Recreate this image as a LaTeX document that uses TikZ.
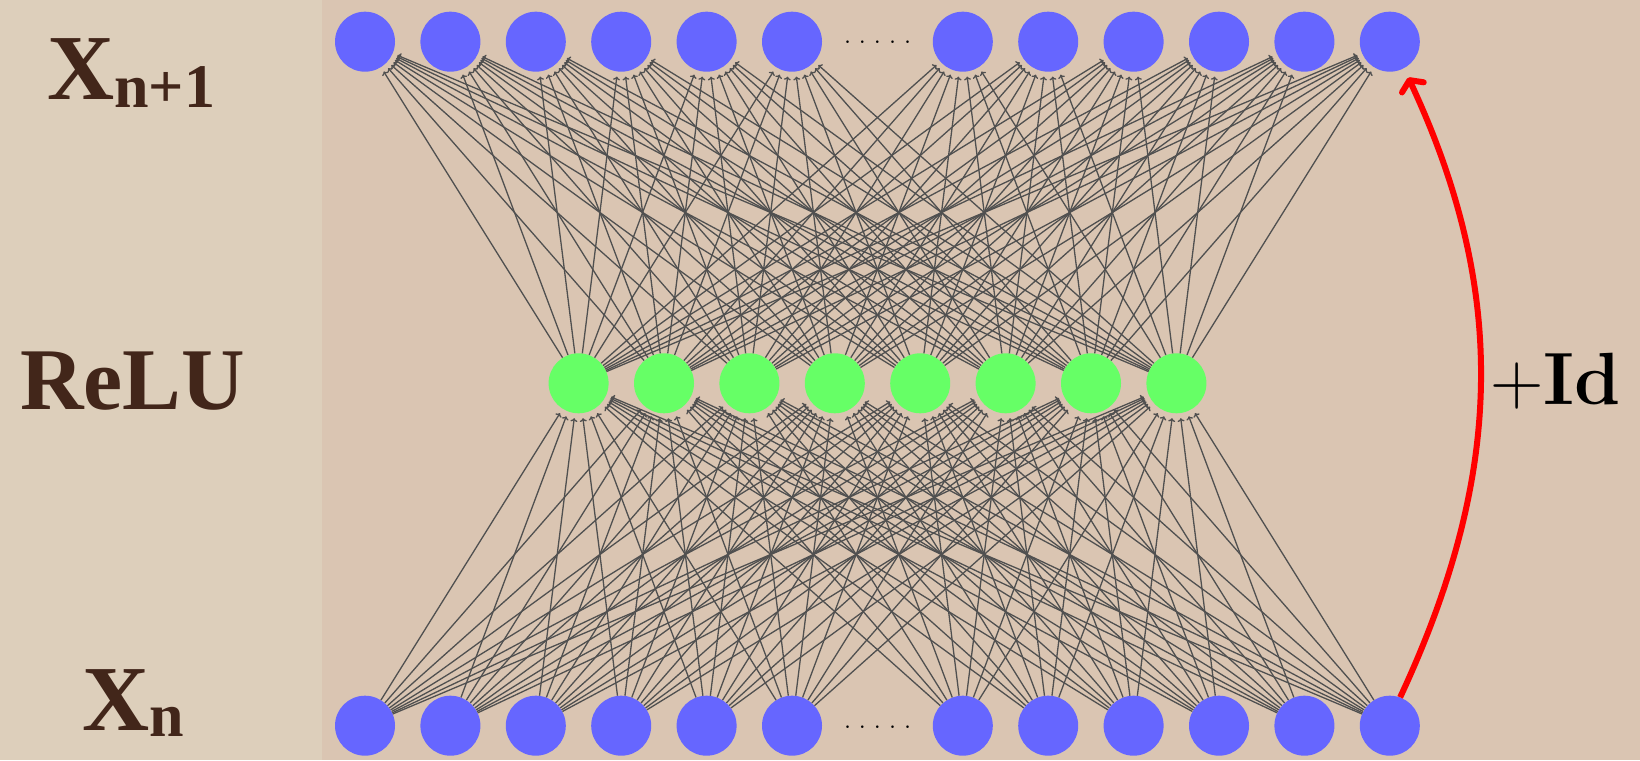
\documentclass[tikz,border=0pt]{standalone}
\usepackage{fontspec}
\newfontfamily\timesfont{Liberation Serif}
\usetikzlibrary{arrows.meta}
\definecolor{bgmain}{RGB}{218,197,178}
\definecolor{bgleft}{RGB}{221,207,187}
\definecolor{nodeblue}{RGB}{102,102,255}
\definecolor{nodegreen}{RGB}{102,255,102}
\definecolor{labelbrown}{RGB}{66,38,26}
\definecolor{linegray}{RGB}{80,80,80}
\begin{document}
\begin{tikzpicture}[x=1pt,y=1pt,
  neuronb/.style={circle, fill=nodeblue, minimum size=60pt, inner sep=0pt},
  neurong/.style={circle, fill=nodegreen, minimum size=60pt, inner sep=0pt},
  conn/.style={draw=linegray, line width=1.3pt, -{To[length=3.5pt,width=7pt]}, shorten >=5pt},
  lbl/.style={text=labelbrown, font=\timesfont\bfseries, anchor=base west, inner sep=0pt},
  dotsnode/.style={font=\fontsize{32}{36}\selectfont, anchor=base, inner sep=0pt},
  idarrow/.style={draw=red, line width=6pt, -{Straight Barb[length=8pt,width=24pt,round]}, shorten >=10pt}]
\useasboundingbox (0,0) rectangle (1640,760);
\fill[bgmain] (0,0) rectangle (1640,760);
\fill[bgleft] (0,0) rectangle (322,760);
% neurons
\foreach \k [count=\i] in {0,1,2,3,4,5,7,8,9,10,11,12} {
  \node[neuronb] (b\i) at ({365+85.4*\k},34.3) {};
  \node[neuronb] (t\i) at ({365+85.4*\k},718.3) {};
}
\foreach \j in {1,...,8}
  \node[neurong] (g\j) at ({877.5+85.4*(\j-4.5)},376.7) {};
% connections
\foreach \i in {1,...,12} {
  \foreach \j in {1,...,8} {
    \draw[conn] (b\i) -- (g\j);
    \draw[conn] (g\j) -- (t\i);
  }
}
% ellipses
\node[dotsnode] (dtop) at (877.5,716) {.\hspace{7pt}.\hspace{7pt}.\hspace{7pt}.\hspace{7pt}.};
\node[dotsnode] (dbot) at (877.5,32) {.\hspace{7pt}.\hspace{7pt}.\hspace{7pt}.\hspace{7pt}.};
% labels
\node[lbl] (lxn1) at (47,660) {\fontsize{93}{100}\selectfont X\fontsize{62}{68}\selectfont\raisebox{-8pt}{n+1}};
\node[lbl] (lrelu) at (20,350) {\fontsize{88}{96}\selectfont ReLU};
\node[lbl] (lxn) at (82,30) {\fontsize{93}{100}\selectfont X\fontsize{62}{68}\selectfont\raisebox{-7pt}{n}};
\node[anchor=base west, inner sep=0pt, font=\fontsize{74}{80}\selectfont] (lid) at (1490,355.2) {+\textbf{Id}};
% identity skip
\draw[idarrow] (b12.70) to[out=65,in=-65] (t12.-62);
\end{tikzpicture}
\end{document}
